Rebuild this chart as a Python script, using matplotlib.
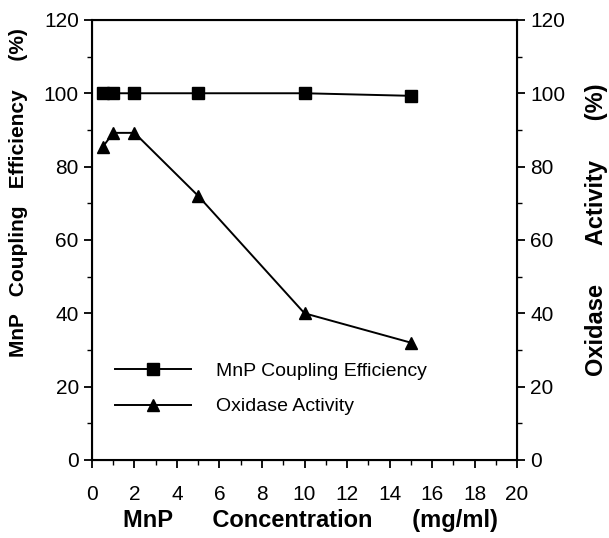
import numpy as np
import matplotlib.pyplot as plt
from matplotlib.ticker import MultipleLocator

plt.rcParams['font.family'] = ['Liberation Sans', 'DejaVu Sans']

# data
conc = [0.5, 1, 2, 5, 10, 15]
coupling = [100, 100, 100, 100, 100, 99.3]
oxidase = [85.3, 89.2, 89.2, 72, 40, 32]

fig = plt.figure(figsize=(6.09, 5.38), dpi=100)
ax = fig.add_axes([0.151, 0.145, 0.698, 0.818])

ax.plot(conc, coupling, '-s', color='black', lw=1.4, ms=9, label='MnP Coupling Efficiency')
ax.plot(conc, oxidase, '-^', color='black', lw=1.4, ms=9, label='Oxidase Activity')

ax.set_xlim(0, 20)
ax.set_ylim(0, 120)
ax.xaxis.set_major_locator(MultipleLocator(2))
ax.xaxis.set_minor_locator(MultipleLocator(1))
ax.yaxis.set_major_locator(MultipleLocator(20))
ax.yaxis.set_minor_locator(MultipleLocator(10))
ax.tick_params(which='major', direction='out', length=6, width=1.3, labelsize=15)
ax.tick_params(which='minor', direction='out', length=3.5, width=1)
ax.tick_params(axis='x', which='major', pad=12)
for s in ax.spines.values():
    s.set_linewidth(1.5)

ax2 = ax.twinx()
ax2.set_ylim(0, 120)
ax2.yaxis.set_major_locator(MultipleLocator(20))
ax2.yaxis.set_minor_locator(MultipleLocator(10))
ax2.tick_params(which='major', direction='out', length=6, width=1.3, labelsize=15)
ax2.tick_params(which='minor', direction='out', length=3.5, width=1)

# axis titles placed like the original (widely spaced words)
fig.text(310 / 609, 1 - 521 / 538, 'MnP      Concentration      (mg/ml)',
         fontsize=17, fontweight='bold', ha='center', va='center')
fig.text(19 / 609, 1 - 28 / 538, 'MnP   Coupling   Efficiency     (%)',
         fontsize=15, fontweight='bold', rotation=90, ha='center', va='top')
fig.text(596 / 609, 1 - 83 / 538, 'Oxidase      Activity      (%)',
         fontsize=17, fontweight='bold', rotation=90, ha='center', va='top')

ax.legend(loc='center left', bbox_to_anchor=(115 / 609, 1 - 389 / 538),
          bbox_transform=fig.transFigure, frameon=False, borderpad=0, borderaxespad=0,
          handlelength=3.9, handletextpad=1.3, fontsize=14, labelspacing=0.9)

fig.savefig('out.png', dpi=100)
